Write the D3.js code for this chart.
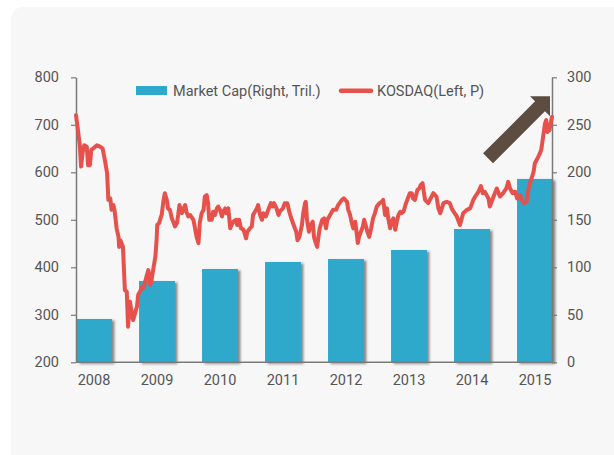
<!DOCTYPE html>
<html>
<head>
<meta charset="utf-8">
<script src="https://cdn.jsdelivr.net/npm/d3@7"></script>
<style>
  html, body { margin: 0; padding: 0; background: #ffffff; }
  svg { display: block; }
  text { font-family: "Liberation Sans Narrow", "Arial Narrow", "Roboto", sans-serif; }
</style>
</head>
<body>
<svg id="chart" width="614" height="455"></svg>
<script>
// ---------- data ----------
const years = ["2008", "2009", "2010", "2011", "2012", "2013", "2014", "2015"];
const marketCap = [45.6, 85.6, 98.2, 105.6, 108.7, 118.2, 140.3, 193.0]; // trillion won (right axis)

const leftTicks = [200, 300, 400, 500, 600, 700, 800];
const rightTicks = [0, 50, 100, 150, 200, 250, 300];

// KOSDAQ index (left axis), time in decimal years
const kosdaqTime = [
  2008.00, 2008.02, 2008.06, 2008.08, 2008.11, 2008.13, 2008.17, 2008.19, 2008.22, 2008.24,
  2008.27, 2008.33, 2008.38, 2008.42, 2008.46, 2008.49, 2008.51, 2008.54, 2008.56, 2008.59,
  2008.61, 2008.64, 2008.67, 2008.68, 2008.70, 2008.74, 2008.77, 2008.80, 2008.82, 2008.85,
  2008.88, 2008.90, 2008.93, 2008.96, 2008.98, 2009.01, 2009.04, 2009.06, 2009.09, 2009.11,
  2009.14, 2009.17, 2009.19, 2009.22, 2009.25, 2009.27, 2009.28, 2009.31, 2009.34, 2009.35,
  2009.38, 2009.40, 2009.43, 2009.45, 2009.48, 2009.51, 2009.56, 2009.59, 2009.61, 2009.63,
  2009.67, 2009.69, 2009.72, 2009.74, 2009.77, 2009.80, 2009.85, 2009.87, 2009.90, 2009.93,
  2009.95, 2009.98, 2010.01, 2010.03, 2010.06, 2010.08, 2010.10, 2010.14, 2010.16, 2010.19,
  2010.22, 2010.24, 2010.27, 2010.30, 2010.32, 2010.35, 2010.37, 2010.40, 2010.43, 2010.45,
  2010.48, 2010.52, 2010.54, 2010.57, 2010.60, 2010.64, 2010.68, 2010.70, 2010.74, 2010.77,
  2010.79, 2010.85, 2010.87, 2010.90, 2010.93, 2010.95, 2010.99, 2011.03, 2011.07, 2011.10,
  2011.12, 2011.16, 2011.19, 2011.21, 2011.26, 2011.29, 2011.33, 2011.36, 2011.40, 2011.43,
  2011.47, 2011.49, 2011.52, 2011.56, 2011.58, 2011.61, 2011.62, 2011.64, 2011.67, 2011.70,
  2011.73, 2011.75, 2011.77, 2011.80, 2011.82, 2011.84, 2011.88, 2011.91, 2011.94, 2011.96,
  2011.99, 2012.05, 2012.10, 2012.13, 2012.19, 2012.22, 2012.27, 2012.29, 2012.32, 2012.34,
  2012.37, 2012.40, 2012.42, 2012.44, 2012.46, 2012.49, 2012.52, 2012.54, 2012.57, 2012.59,
  2012.62, 2012.65, 2012.68, 2012.71, 2012.74, 2012.78, 2012.82, 2012.84, 2012.87, 2012.90,
  2012.92, 2012.95, 2012.97, 2013.00, 2013.03, 2013.05, 2013.08, 2013.11, 2013.13, 2013.16,
  2013.20, 2013.24, 2013.26, 2013.29, 2013.31, 2013.34, 2013.38, 2013.41, 2013.43, 2013.46,
  2013.50, 2013.55, 2013.63, 2013.68, 2013.71, 2013.74, 2013.79, 2013.84, 2013.89, 2013.92,
  2013.95, 2014.00, 2014.05, 2014.10, 2014.16, 2014.21, 2014.26, 2014.29, 2014.34, 2014.38,
  2014.41, 2014.44, 2014.50, 2014.52, 2014.58, 2014.63, 2014.68, 2014.73, 2014.78, 2014.81,
  2014.84, 2014.88, 2014.92, 2014.95, 2015.00, 2015.02, 2015.06, 2015.10, 2015.13, 2015.16,
  2015.21, 2015.23, 2015.27, 2015.30, 2015.33, 2015.36, 2015.39, 2015.41, 2015.43, 2015.46,
  2015.48, 2015.50
];
const kosdaqValue = [
  720, 700, 657, 612, 647, 657, 654, 615, 615, 647,
  650, 657, 654, 650, 622, 598, 542, 545, 521, 531,
  517, 482, 464, 443, 457, 443, 352, 349, 275, 328,
  303, 289, 303, 317, 342, 349, 359, 356, 370, 380,
  394, 363, 373, 398, 422, 457, 489, 493, 507, 510,
  542, 556, 542, 524, 521, 503, 486, 493, 510, 531,
  514, 521, 531, 517, 507, 510, 500, 486, 464, 451,
  493, 514, 521, 549, 552, 535, 500, 500, 517, 510,
  524, 528, 521, 507, 517, 524, 514, 524, 482, 489,
  496, 500, 489, 500, 482, 479, 461, 475, 482, 486,
  510, 524, 531, 510, 500, 514, 507, 521, 535, 528,
  535, 524, 510, 517, 524, 535, 535, 517, 500, 489,
  475, 457, 464, 489, 514, 535, 538, 500, 475, 489,
  496, 464, 454, 443, 464, 482, 500, 503, 482, 500,
  507, 521, 521, 531, 542, 545, 538, 521, 510, 496,
  482, 496, 475, 451, 464, 475, 486, 500, 486, 475,
  464, 482, 503, 514, 528, 535, 538, 542, 510, 524,
  503, 482, 496, 503, 479, 493, 510, 517, 514, 517,
  535, 549, 556, 556, 545, 542, 563, 566, 573, 577,
  542, 535, 556, 549, 524, 514, 535, 538, 535, 524,
  517, 507, 489, 514, 521, 524, 542, 549, 559, 571,
  556, 559, 545, 528, 549, 566, 549, 556, 566, 580,
  566, 556, 559, 545, 552, 542, 535, 538, 566, 580,
  601, 619, 629, 637, 647, 675, 703, 710, 685, 689,
  703, 717
];

const legendItems = ["Market Cap(Right, Tril.)", "KOSDAQ(Left, P)"];

// ---------- layout ----------
const W = 614, H = 455;
const plot = { left: 76, right: 552, top: 77.3, bottom: 362.3 };
const colors = { bar: "#2ea8cb", line: "#e6514b", axis: "#7a7a7a", text: "#555555", arrow: "#5d4c40", panel: "#f7f7f7" };
const fontSize = 14.5;

const svg = d3.select("#chart");

const defs = svg.append("defs");
const shadow = defs.append("filter").attr("id", "barShadow")
  .attr("x", "-20%").attr("y", "-10%").attr("width", "150%").attr("height", "130%");
shadow.append("feDropShadow")
  .attr("dx", 2.5).attr("dy", 1.5).attr("stdDeviation", 1.3)
  .attr("flood-color", "#333").attr("flood-opacity", 0.55);

// panel background
svg.append("rect")
  .attr("x", 11).attr("y", 7).attr("width", 620).attr("height", 470)
  .attr("rx", 12).attr("ry", 12)
  .attr("fill", colors.panel);

// scales
const xBand = d3.scaleBand()
  .domain(years)
  .range([62.5, 566.5])
  .paddingInner(0.43)
  .paddingOuter(0.215);

const xTime = d3.scaleLinear().domain([2008, 2015.5]).range([plot.left, plot.right]);
const yLeft = d3.scaleLinear().domain([200, 800]).range([plot.bottom, plot.top]);
const yRight = d3.scaleLinear().domain([0, 300]).range([plot.bottom, plot.top]);

// bars
svg.append("g").selectAll("rect")
  .data(years.map((y, i) => ({ year: y, value: marketCap[i] })))
  .join("rect")
  .attr("x", d => Math.max(xBand(d.year), plot.left + 1))
  .attr("width", d => xBand(d.year) + xBand.bandwidth() - Math.max(xBand(d.year), plot.left + 1))
  .attr("y", d => yRight(d.value))
  .attr("height", d => yRight(0) - yRight(d.value))
  .attr("fill", colors.bar)
  .attr("filter", "url(#barShadow)");

// axes
function styleAxis(g) {
  g.selectAll(".domain").attr("stroke", colors.axis).attr("stroke-width", 1.5);
  g.selectAll(".tick line").attr("stroke", colors.axis).attr("stroke-width", 1.2);
  g.selectAll("text").attr("fill", colors.text).attr("font-size", fontSize)
    .attr("font-family", '"Liberation Sans Narrow", "Arial Narrow", Roboto, sans-serif');
}

svg.append("g")
  .attr("transform", `translate(${plot.left},0)`)
  .call(d3.axisLeft(yLeft).tickValues(leftTicks).tickSize(5).tickSizeOuter(0).tickPadding(12))
  .call(styleAxis);

svg.append("g")
  .attr("transform", `translate(${plot.right},0)`)
  .call(d3.axisRight(yRight).tickValues(rightTicks).tickSize(5).tickSizeOuter(0).tickPadding(10))
  .call(styleAxis);

const xAxisG = svg.append("g")
  .attr("transform", `translate(0,${plot.bottom})`)
  .call(d3.axisBottom(xBand).tickSize(0).tickPadding(12))
  .call(styleAxis);
xAxisG.select(".domain")
  .attr("d", `M${plot.left},0H${plot.right}`);

// arrow annotation
const tip = [xTime(2015.5) - 2, yRight(280)];
const head = 20, half = 7, shaftLen = 73.5;
const mid = [tip[0] - head / 2, tip[1] + head / 2];
const u = [Math.SQRT1_2, Math.SQRT1_2];
const back = [-Math.SQRT1_2, Math.SQRT1_2];
const s1 = [mid[0] - half * u[0], mid[1] - half * u[1]];
const s2 = [mid[0] + half * u[0], mid[1] + half * u[1]];
const t1 = [s1[0] + shaftLen * back[0], s1[1] + shaftLen * back[1]];
const t2 = [s2[0] + shaftLen * back[0], s2[1] + shaftLen * back[1]];
const arrowPts = [t1, s1, [tip[0] - head, tip[1]], tip, [tip[0], tip[1] + head], s2, t2];
svg.append("path")
  .attr("d", d3.line()(arrowPts) + "Z")
  .attr("fill", colors.arrow);

// KOSDAQ line
const lineData = kosdaqTime.map((t, i) => ({ t, v: kosdaqValue[i] }));
svg.append("path")
  .datum(lineData)
  .attr("d", d3.line().x(d => xTime(d.t)).y(d => yLeft(d.v)))
  .attr("fill", "none")
  .attr("stroke", colors.line)
  .attr("stroke-width", 4)
  .attr("stroke-linejoin", "round")
  .attr("stroke-linecap", "round");

// legend
const legend = svg.append("g");
legend.append("rect")
  .attr("x", 136).attr("y", 86).attr("width", 31).attr("height", 9)
  .attr("fill", colors.bar);
legend.append("text")
  .attr("x", 173).attr("y", 90.5).attr("dy", "0.35em")
  .attr("font-size", fontSize).attr("fill", colors.text)
  .text(legendItems[0]);
legend.append("line")
  .attr("x1", 341).attr("x2", 371).attr("y1", 90.7).attr("y2", 90.7)
  .attr("stroke", colors.line).attr("stroke-width", 4.5).attr("stroke-linecap", "round");
legend.append("text")
  .attr("x", 377).attr("y", 90.5).attr("dy", "0.35em")
  .attr("font-size", fontSize).attr("fill", colors.text)
  .text(legendItems[1]);
</script>
</body>
</html>
